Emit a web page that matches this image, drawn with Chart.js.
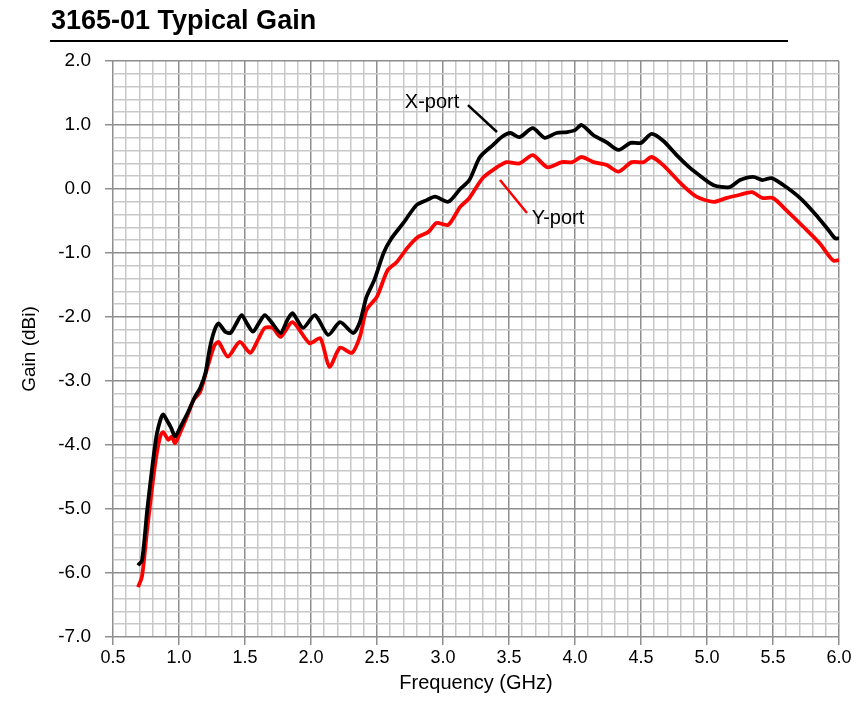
<!DOCTYPE html>
<html>
<head>
<meta charset="utf-8">
<script src="https://cdn.jsdelivr.net/npm/chart.js@4.4.1/dist/chart.umd.min.js"></script>
<style>
body { margin: 0; background: #fff; }
#wrap { position: relative; width: 860px; height: 726px; }
canvas { position: absolute; left: 0; top: 0; }
#title { position: absolute; left: 51px; top: 5px; font: bold 27px "Liberation Sans", Arial, sans-serif; color: #000; }
#rule { position: absolute; left: 50px; top: 40px; width: 738px; height: 2px; background: #000; }
</style>
</head>
<body>
<div id="wrap">
<canvas id="gain" width="860" height="726"></canvas>
<div id="title">3165-01 Typical Gain</div>
<div id="rule"></div>
</div>
<script>
// X-port (black)
const freqX = [0.69, 0.72, 0.76, 0.80, 0.83, 0.86, 0.88, 0.91, 0.94, 0.97, 1.01, 1.07, 1.12, 1.16, 1.20, 1.235, 1.27, 1.30, 1.35, 1.39,
  1.44, 1.475, 1.52, 1.56, 1.61, 1.65, 1.70, 1.77, 1.82, 1.86, 1.94, 2.03, 2.13, 2.22, 2.32, 2.37, 2.42, 2.48, 2.55, 2.61,
  2.70, 2.80, 2.88, 2.94, 3.04, 3.13, 3.20, 3.28, 3.38, 3.45, 3.51, 3.58, 3.68, 3.77, 3.86, 3.94, 4.00, 4.05, 4.14, 4.24,
  4.33, 4.42, 4.50, 4.58, 4.67, 4.77, 4.86, 4.92, 5.05, 5.17, 5.25, 5.35, 5.42, 5.49, 5.60, 5.72, 5.84, 5.92, 5.97, 6.00]
const gainX = [-5.88, -5.80, -5.00, -4.30, -3.85, -3.60, -3.52, -3.62, -3.73, -3.87, -3.72, -3.48, -3.25, -3.11, -2.88, -2.47, -2.20, -2.10, -2.23, -2.25,
  -2.08, -1.97, -2.12, -2.23, -2.08, -1.97, -2.08, -2.25, -2.05, -1.94, -2.17, -1.97, -2.28, -2.08, -2.25, -2.08, -1.69, -1.42, -1.00, -0.77,
  -0.53, -0.25, -0.17, -0.12, -0.20, 0.00, 0.14, 0.50, 0.69, 0.82, 0.875, 0.81, 0.95, 0.80, 0.875, 0.89, 0.92, 1.00, 0.84, 0.73,
  0.61, 0.72, 0.72, 0.86, 0.75, 0.53, 0.35, 0.25, 0.06, 0.03, 0.14, 0.19, 0.14, 0.17, 0.03, -0.17, -0.44, -0.64, -0.77, -0.77]

// Y-port (red)
const freqY = [0.69, 0.72, 0.76, 0.80, 0.83, 0.86, 0.88, 0.92, 0.945, 0.97, 1.01, 1.06, 1.11, 1.16, 1.20, 1.235, 1.27, 1.30, 1.37, 1.46,
  1.54, 1.60, 1.65, 1.71, 1.77, 1.86, 1.99, 2.07, 2.14, 2.22, 2.31, 2.37, 2.42, 2.50, 2.58, 2.65, 2.73, 2.81, 2.89, 2.95,
  3.04, 3.13, 3.20, 3.30, 3.38, 3.48, 3.58, 3.68, 3.79, 3.90, 3.98, 4.05, 4.14, 4.24, 4.33, 4.43, 4.52, 4.58, 4.67, 4.80,
  4.92, 5.05, 5.15, 5.25, 5.34, 5.42, 5.50, 5.60, 5.73, 5.85, 5.93, 5.96, 6.00]
const gainY = [-6.22, -6.05, -5.30, -4.60, -4.15, -3.85, -3.80, -3.92, -3.87, -3.97, -3.80, -3.56, -3.30, -3.17, -2.90, -2.65, -2.44, -2.39, -2.62, -2.39,
  -2.56, -2.35, -2.17, -2.17, -2.31, -2.08, -2.41, -2.33, -2.78, -2.48, -2.56, -2.31, -1.89, -1.68, -1.27, -1.14, -0.92, -0.75, -0.67, -0.53,
  -0.56, -0.28, -0.14, 0.17, 0.30, 0.42, 0.40, 0.53, 0.34, 0.42, 0.42, 0.50, 0.42, 0.375, 0.27, 0.42, 0.42, 0.50, 0.37, 0.09,
  -0.12, -0.20, -0.14, -0.09, -0.05, -0.14, -0.14, -0.33, -0.59, -0.84, -1.06, -1.12, -1.11]

// text notes with leader lines, in data units
const portNotes = [
    {text: 'X-port', at: [2.917, 1.344], from: [3.189, 1.31], to: [3.409, 0.89], color: '#000000'},
    {text: 'Y-port', at: [3.871, -0.453], from: [3.432, 0.141], to: [3.636, -0.375], color: '#ff0000'}
]

const FONT = '"Liberation Sans", Arial, sans-serif'
const MAJOR = '#8e8e8e'
const MINOR = '#c8c8c8'

function isHalf(v) { return Math.abs(v * 2 - Math.round(v * 2)) < 1e-6 }
function isWhole(v) { return Math.abs(v - Math.round(v)) < 1e-6 }

function toPoints(xs, ys) {
    return xs.map((f, i) => ({x: f, y: ys[i]}))
}

const portLabels = {
    id: 'portLabels',
    afterDatasetsDraw(chart) {
        const {ctx, scales: {x, y}} = chart
        ctx.save()
        ctx.font = '20px ' + FONT
        ctx.textAlign = 'center'
        ctx.textBaseline = 'middle'
        portNotes.forEach(n => {
            ctx.fillStyle = '#000'
            ctx.fillText(n.text, x.getPixelForValue(n.at[0]), y.getPixelForValue(n.at[1]))
            ctx.strokeStyle = n.color
            ctx.lineWidth = 2.5
            ctx.beginPath()
            ctx.moveTo(x.getPixelForValue(n.from[0]), y.getPixelForValue(n.from[1]))
            ctx.lineTo(x.getPixelForValue(n.to[0]), y.getPixelForValue(n.to[1]))
            ctx.stroke()
        })
        ctx.restore()
    }
}

new Chart(document.getElementById('gain'), {
    type: 'line',
    data: {
        datasets: [
            {label: 'X-port', data: toPoints(freqX, gainX), borderColor: '#000000', borderWidth: 3.8, pointRadius: 0, tension: 0.25},
            {label: 'Y-port', data: toPoints(freqY, gainY), borderColor: '#ff0000', borderWidth: 3.8, pointRadius: 0, tension: 0.25}
        ]
    },
    options: {
        responsive: false,
        animation: false,
        layout: {padding: {top: 61, right: 21, left: 0, bottom: 0}},
        plugins: {legend: {display: false}, tooltip: {enabled: false}},
        scales: {
            x: {
                type: 'linear', min: 0.5, max: 6.0,
                afterFit: s => { s.height = 89 },
                border: {display: false},
                grid: {
                    color: c => isHalf(c.tick.value) ? MAJOR : MINOR,
                    tickColor: c => isHalf(c.tick.value) ? MAJOR : 'rgba(0,0,0,0)',
                    lineWidth: 1.5, tickLength: 8
                },
                ticks: {
                    stepSize: 0.1, autoSkip: false, maxRotation: 0, padding: 2,
                    color: '#000', font: {family: FONT, size: 18},
                    callback: v => isHalf(v) ? v.toFixed(1) : ''
                },
                title: {display: true, text: 'Frequency (GHz)', color: '#000', font: {family: FONT, size: 20}, padding: {top: 0, bottom: 31}}
            },
            y: {
                min: -7, max: 2,
                afterFit: s => { s.width = 113 },
                border: {display: false},
                grid: {
                    color: c => isWhole(c.tick.value) ? MAJOR : MINOR,
                    tickColor: c => isWhole(c.tick.value) ? MAJOR : 'rgba(0,0,0,0)',
                    lineWidth: 1.5, tickLength: 8
                },
                ticks: {
                    stepSize: 0.2, autoSkip: false, padding: 14,
                    color: '#000', font: {family: FONT, size: 19},
                    callback: v => isWhole(v) ? v.toFixed(1) : ''
                },
                title: {display: true, text: 'Gain (dBi)', color: '#000', font: {family: FONT, size: 19}, padding: {top: 18, bottom: 0}}
            }
        }
    },
    plugins: [portLabels]
})
</script>
</body>
</html>
